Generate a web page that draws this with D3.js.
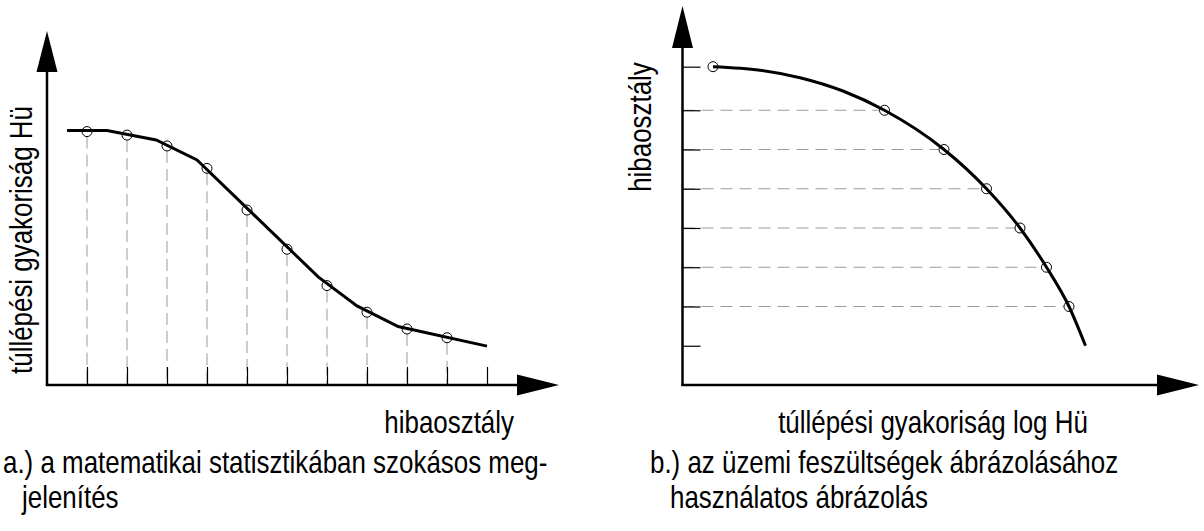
<!DOCTYPE html>
<html>
<head>
<meta charset="utf-8">
<script src="https://cdn.jsdelivr.net/npm/d3@7"></script>
<style>
  html, body { margin: 0; padding: 0; background: #fff; }
  svg { display: block; }
  text { font-family: "Liberation Sans", Arial, sans-serif; fill: #000; }
</style>
</head>
<body>
<script>
// ---- Diagram a: exceedance frequency (Hü) per fault class ----
const classesA     = [1, 2, 3, 4, 5, 6, 7, 8, 9, 10, 11];
const pointClassA  = [1, 2, 3, 4, 5, 6, 7, 8, 9, 10];
const pointFreqA   = [72.4, 71.4, 68.3, 61.9, 50.0, 38.8, 28.4, 20.8, 16.0, 13.5];
const fitClassA    = [0.5, 1.5, 2.73, 3.75, 6.78, 7.75, 8.78, 11];
const fitFreqA     = [72.7, 72.7, 70.0, 64.3, 30.9, 22.6, 16.7, 11.1];

// ---- Diagram b: fault class over log exceedance frequency ----
const levelsB      = [1, 2, 3, 4, 5, 6, 7, 8.11];
const pointLogB    = [0.61, 4.04, 5.23, 6.08, 6.75, 7.28, 7.73];
const pointLevelB  = [8.11, 7, 6, 5, 4, 3, 2];
const fitLogB      = [0.61, 1.55, 2.35, 3.21, 4.04, 5.23, 6.08, 6.75, 7.28, 7.73, 8.06];
const fitLevelB    = [8.11, 8.02, 7.83, 7.49, 7, 6, 5, 4, 3, 2, 1];

// ---- Labels ----
const axisTitlesA  = { x: "hibaosztály", y: "túllépési gyakoriság Hü" };
const axisTitlesB  = { x: "túllépési gyakoriság log Hü", y: "hibaosztály" };
const captionA     = ["a.) a matematikai statisztikában szokásos meg-", "jelenítés"];
const captionB     = ["b.) az üzemi feszültségek ábrázolásához", "használatos ábrázolás"];

const W = 1204, H = 531;
const svg = d3.select("body").append("svg").attr("width", W).attr("height", H);

const FONT = 32, SQUEEZE = 0.81;   // narrow sans face
const GREY = "#9a9a9a", R = 5;

function label(x, y, str, rot, anchor) {
  svg.append("text")
    .attr("transform", `translate(${x},${y})` + (rot ? ` rotate(${rot})` : "") + ` scale(${SQUEEZE},1)`)
    .attr("font-size", FONT)
    .attr("text-anchor", anchor || "start")
    .text(str);
}
function arrowUp(x, tipY, baseY, half) {
  svg.append("path").attr("d", `M${x},${tipY}L${x - half},${baseY}L${x + half},${baseY}Z`).attr("fill", "#000");
}
function arrowRight(y, tipX, baseX, half) {
  svg.append("path").attr("d", `M${tipX},${y}L${baseX},${y - half}L${baseX},${y + half}Z`).attr("fill", "#000");
}

// ================= Diagram a =================
const xA = d3.scaleLinear().domain([0, 12]).range([47, 527]);
const yA = d3.scaleLinear().domain([0, 100]).range([385, 35]);
const ptsA = pointClassA.map((c, i) => ({ x: c, y: pointFreqA[i] }));
const fitA = fitClassA.map((c, i) => ({ x: c, y: fitFreqA[i] }));

const gA = svg.append("g");
// dashed drop lines from each point to the class axis
gA.selectAll("line.drop").data(ptsA).join("line")
  .attr("x1", d => xA(d.x)).attr("x2", d => xA(d.x))
  .attr("y1", d => yA(d.y) + R).attr("y2", yA(0))
  .attr("stroke", GREY).attr("stroke-width", 1).attr("stroke-dasharray", "12,6");
// class ticks
const axA = gA.append("g").attr("transform", `translate(0,${yA(0)})`)
  .call(d3.axisTop(xA).tickValues(classesA).tickSize(18).tickFormat(""));
axA.select(".domain").remove();
axA.selectAll(".tick line").attr("stroke", "#000").attr("stroke-width", 1.2);
// axes with arrows
gA.append("line").attr("x1", xA(0)).attr("x2", xA(0)).attr("y1", yA(0)).attr("y2", 70)
  .attr("stroke", "#000").attr("stroke-width", 2.5);
gA.append("line").attr("x1", xA(0) - 1.25).attr("x2", 519).attr("y1", yA(0)).attr("y2", yA(0))
  .attr("stroke", "#000").attr("stroke-width", 2.5);
arrowUp(xA(0), 31, 72, 10.5);
arrowRight(yA(0), 559, 517, 10.5);
// fitted curve
gA.append("path").datum(fitA)
  .attr("d", d3.line().x(d => xA(d.x)).y(d => yA(d.y)))
  .attr("fill", "none").attr("stroke", "#000").attr("stroke-width", 3);
// measured points
gA.selectAll("circle").data(ptsA).join("circle")
  .attr("cx", d => xA(d.x)).attr("cy", d => yA(d.y)).attr("r", R)
  .attr("fill", "none").attr("stroke", "#000").attr("stroke-width", 1);

label(32, 240, axisTitlesA.y, -90, "middle");
label(514, 433, axisTitlesA.x, 0, "end");
label(3, 473, captionA[0]);
label(22, 508, captionA[1]);

// ================= Diagram b =================
const xB = d3.scaleLinear().domain([0, 10]).range([682.5, 1182.5]);
const yB = d3.scaleLinear().domain([0, 8]).range([385, 71]);
const ptsB = pointLogB.map((v, i) => ({ x: v, y: pointLevelB[i] }));
const fitB = fitLogB.map((v, i) => ({ x: v, y: fitLevelB[i] }));

const gB = svg.append("g");
gB.selectAll("line.drop").data(ptsB.slice(1)).join("line")
  .attr("x1", xB(0)).attr("x2", d => xB(d.x) - R)
  .attr("y1", d => yB(d.y)).attr("y2", d => yB(d.y))
  .attr("stroke", GREY).attr("stroke-width", 1).attr("stroke-dasharray", "12,7");
const axB = gB.append("g").attr("transform", `translate(${xB(0)},0)`)
  .call(d3.axisRight(yB).tickValues(levelsB).tickSize(18).tickFormat(""));
axB.select(".domain").remove();
axB.selectAll(".tick line").attr("stroke", "#000").attr("stroke-width", 1.2);
gB.append("line").attr("x1", xB(0)).attr("x2", xB(0)).attr("y1", yB(0)).attr("y2", 46)
  .attr("stroke", "#000").attr("stroke-width", 2.5);
gB.append("line").attr("x1", xB(0) - 1.25).attr("x2", 1159).attr("y1", yB(0)).attr("y2", yB(0))
  .attr("stroke", "#000").attr("stroke-width", 2.5);
arrowUp(xB(0), 6, 48, 10.5);
arrowRight(yB(0), 1199, 1157, 10.5);
gB.append("path").datum(fitB)
  .attr("d", d3.line().x(d => xB(d.x)).y(d => yB(d.y)).curve(d3.curveMonotoneX))
  .attr("fill", "none").attr("stroke", "#000").attr("stroke-width", 3);
gB.selectAll("circle").data(ptsB).join("circle")
  .attr("cx", d => xB(d.x)).attr("cy", d => yB(d.y)).attr("r", R)
  .attr("fill", "none").attr("stroke", "#000").attr("stroke-width", 1);

label(651, 127, axisTitlesB.y, -90, "middle");
label(933, 433, axisTitlesB.x, 0, "middle");
label(650, 473, captionB[0]);
label(670, 508, captionB[1]);
</script>
</body>
</html>
